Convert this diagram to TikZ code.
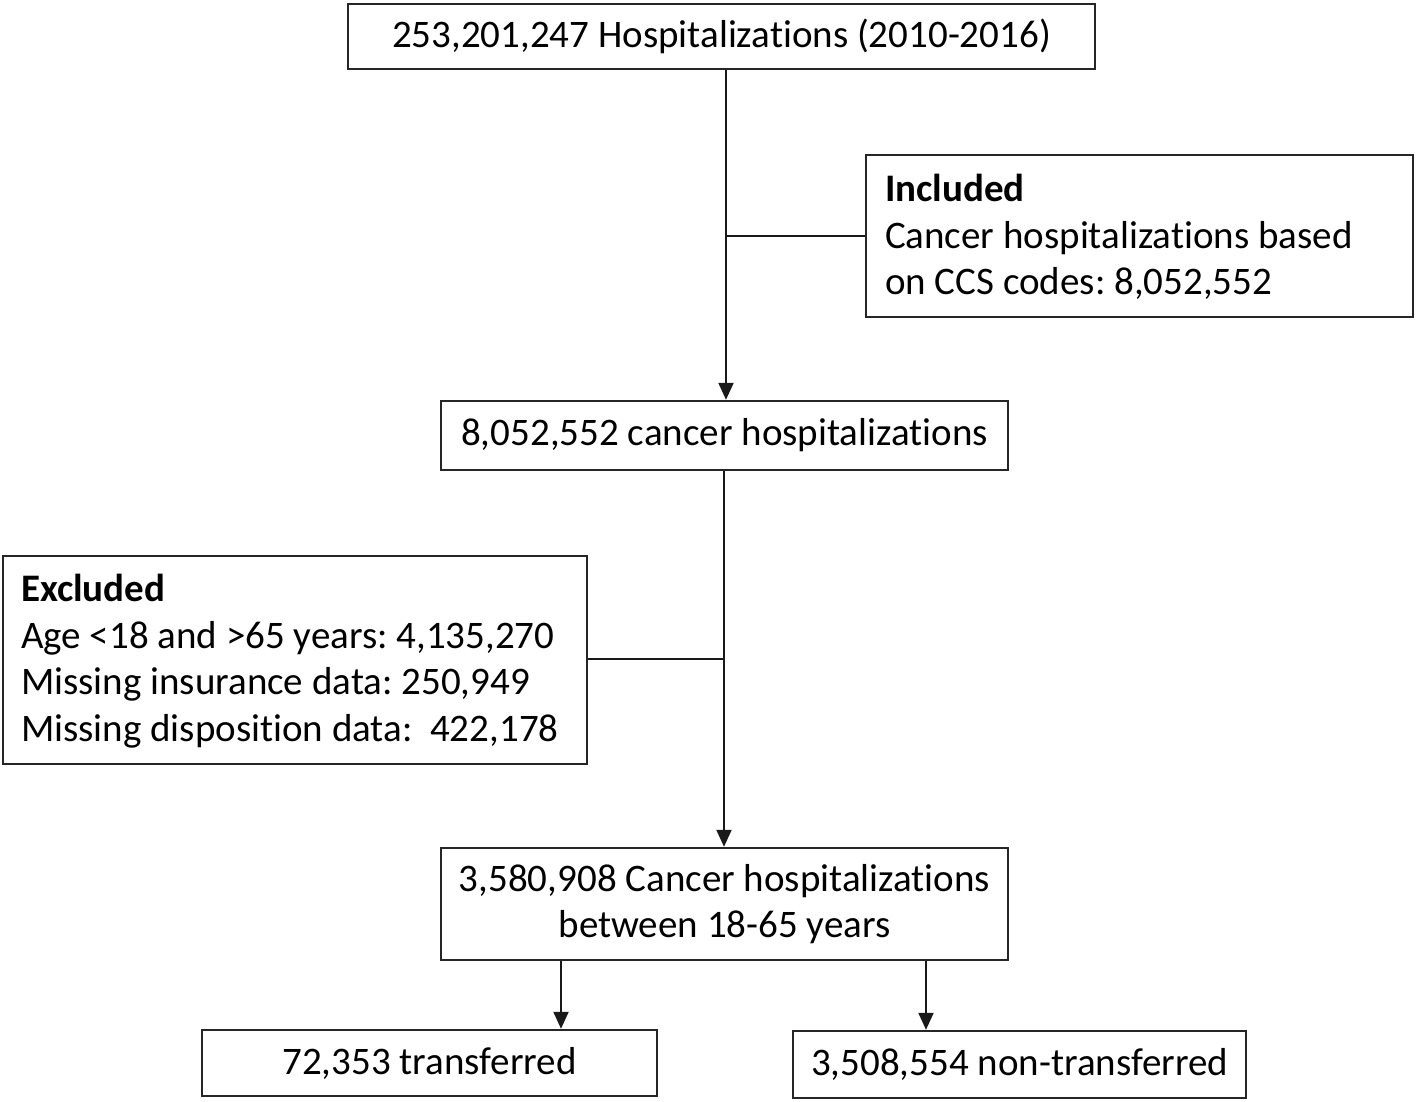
\documentclass[tikz,border=0pt]{standalone}
\usepackage{fontspec}
\setmainfont[Ligatures={NoCommon}]{Carlito}
\frenchspacing
\usetikzlibrary{arrows.meta}
\begin{document}
\begin{tikzpicture}[x=1pt,y=-1pt,
  box/.style={draw=black!85, line width=2.4pt, inner sep=0pt, align=center,
    font=\fontsize{39}{46}\selectfont},
  txt/.style={inner sep=0pt, align=left, anchor=west,
    font=\fontsize{39}{46.5}\selectfont},
  conn/.style={line width=2pt, draw=black!90},
  arr/.style={conn, -{Triangle[length=17pt,width=15pt]}}]
\useasboundingbox (0,0) rectangle (1416,1102);
\node[box, minimum width=747pt, minimum height=65pt] (top) at (721.5,36.5)
  {253,201,247 Hospitalizations (2010-2016)};
\node[box, minimum width=547pt, minimum height=162pt] (incl) at (1139.5,236) {};
\node[txt] (incltext) at ([xshift=20pt,yshift=-1pt]incl.west)
  {\textbf{Included}\\Cancer hospitalizations based\\on CCS codes: 8,052,552};
\node[box, minimum width=567pt, minimum height=69pt] (mid) at (724.5,435.5)
  {8,052,552 cancer hospitalizations};
\node[box, minimum width=584pt, minimum height=208pt] (excl) at (295,660) {};
\node[txt] (excltext) at ([xshift=19pt,yshift=-1pt]excl.west)
  {\textbf{Excluded}\\Age <18 and >65 years: 4,135,270\\Missing insurance data: 250,949\\Missing disposition data:\ \ 422,178};
\node[box, minimum width=567pt, minimum height=112pt] (sel) at (724.5,904)
  {3,580,908 Cancer hospitalizations\\between 18-65 years};
\node[box, minimum width=455pt, minimum height=66pt] (tr) at (429.5,1063)
  {72,353 transferred};
\node[box, minimum width=453pt, minimum height=67pt] (ntr) at (1019.5,1064.5)
  {3,508,554 non-transferred};
\coordinate (j1) at (726,236);
\coordinate (j2) at (724,659);
\coordinate (b1) at (561,995);
\coordinate (b2) at (926,995);
\draw[arr] (top.south -| j1) -- (mid.north -| j1);
\draw[conn] (j1) -- (incl.west |- j1);
\draw[arr] (mid.south -| j2) -- (sel.north -| j2);
\draw[conn] (excl.east |- j2) -- (j2);
\draw[arr] (sel.south -| b1) -- (tr.north -| b1);
\draw[arr] (sel.south -| b2) -- (ntr.north -| b2);
\end{tikzpicture}
\end{document}
